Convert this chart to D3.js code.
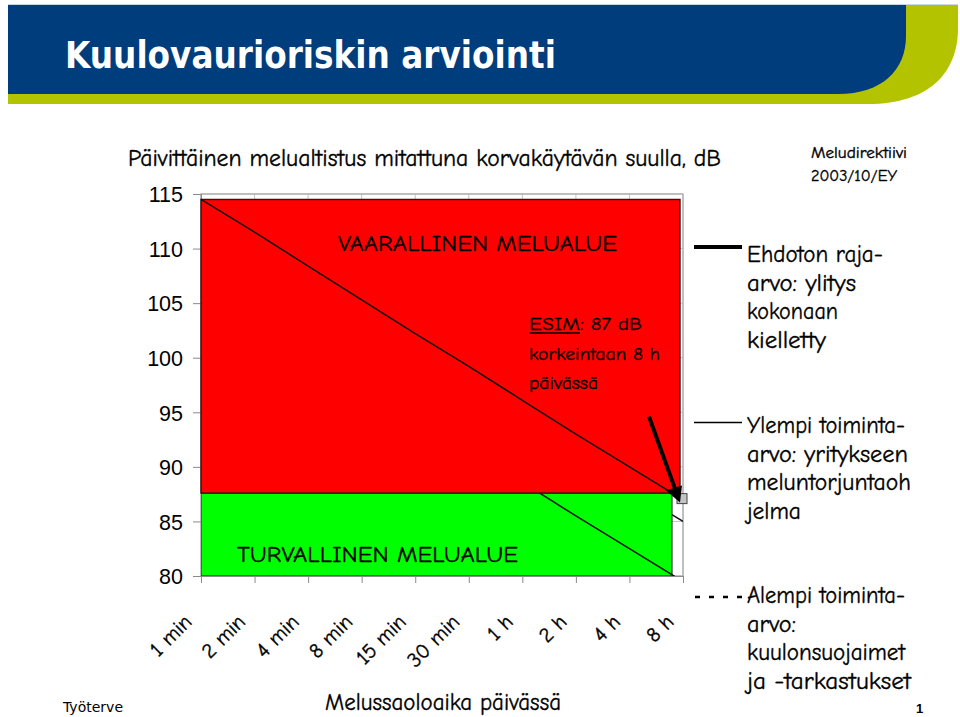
<!DOCTYPE html>
<html>
<head>
<meta charset="utf-8">
<script src="https://cdn.jsdelivr.net/npm/d3@7"></script>
<style>
  html, body { margin: 0; padding: 0; background: #fff; }
  svg { display: block; }
</style>
</head>
<body>
<svg id="chart" width="960" height="717"></svg>
<script>
// ---------------- data ----------------
const categories = ["1 min", "2 min", "4 min", "8 min", "15 min", "30 min", "1 h", "2 h", "4 h", "8 h"];
const yTicks = [80, 85, 90, 95, 100, 105, 110, 115];
// Ehdoton raja-arvo (87 dB / 8 h) line
const limitValues = [114.5, 111.5, 108.4, 105.3, 102.2, 99.2, 96.1, 93.0, 90.0, 87.0];
// Ylempi toiminta-arvo (85 dB / 8 h) line
const upperActionValues = [112.5, 109.5, 106.4, 103.3, 100.2, 97.2, 94.1, 91.0, 88.0, 85.0];
// Alempi toiminta-arvo line
const lowerActionValues = [107.0, 104.0, 100.9, 97.8, 94.7, 91.7, 88.6, 85.5, 82.5, 79.5];
// zone bounds: safe zone [80, 87.6], dangerous zone [87.6, 114.5]
const zoneBounds = [80, 87.6, 114.5];
const zoneLabels = ["TURVALLINEN MELUALUE", "VAARALLINEN MELUALUE"];
const chartTitle = "Päivittäinen melualtistus mitattuna korvakäytävän suulla, dB";
const xTitle = "Melussaoloaika päivässä";
const pageTitle = "Kuulovaurioriskin arviointi";
const sourceLines = ["Meludirektiivi", "2003/10/EY"];
const exampleLines = ["ESIM", ": 87 dB", "korkeintaan 8 h", "päivässä"];
const legendLabels = [
  ["Ehdoton raja-", "arvo: ylitys", "kokonaan", "kielletty"],
  ["Ylempi toiminta-", "arvo: yritykseen", "meluntorjuntaoh", "jelma"],
  ["Alempi toiminta-", "arvo:", "kuulonsuojaimet", "ja -tarkastukset"]
];

// ---------------- setup ----------------
const svg = d3.select("#chart");
const comic = '"Comic Sans MS", "Comic Neue", "Noto Sans", sans-serif';
const arial = '"Liberation Sans", Arial, sans-serif';

function txt(str, x, y, size, opts = {}) {
  const t = svg.append("text")
    .attr("x", x).attr("y", y)
    .attr("font-size", size)
    .attr("font-family", opts.font || comic)
    .attr("fill", opts.fill || "#000")
    .text(str);
  if (opts.weight) t.attr("font-weight", opts.weight);
  if (opts.anchor) t.attr("text-anchor", opts.anchor);
  if (opts.w) t.attr("textLength", opts.w).attr("lengthAdjust", "spacingAndGlyphs");
  if (!opts.font) t.attr("stroke", "#000").attr("stroke-width", 0.35);
  return t;
}

// ---------------- header ----------------
svg.append("line").attr("x1", 8).attr("x2", 958).attr("y1", 4.5).attr("y2", 4.5)
  .attr("stroke", "#c9d6e3").attr("stroke-width", 1);
svg.append("path")
  .attr("d", "M8,5 H958 V28 C958,72 930,104 868,104 H8 Z")
  .attr("fill", "#b4c300");
svg.append("path")
  .attr("d", "M8,5 H906 V36 C906,70 882,94 838,94 H8 Z")
  .attr("fill", "#003d7c");
txt(pageTitle, 65, 68, 37, { font: '"DejaVu Sans Condensed", "DejaVu Sans", sans-serif', weight: "bold", fill: "#fff", w: 491 });

// ---------------- scales ----------------
const x = d3.scalePoint().domain(categories).range([201, 683]);
const y = d3.scaleLinear().domain([80, 115]).range([576, 194]);
const x0 = x.range()[0], x1 = x.range()[1];

// clip
svg.append("defs").append("clipPath").attr("id", "plotClip")
  .append("rect").attr("x", x0).attr("y", y(115)).attr("width", x1 - x0).attr("height", y(80) - y(115));

// gridlines
const grid = svg.append("g");
grid.selectAll("line.h").data(yTicks).join("line")
  .attr("x1", x0).attr("x2", x1).attr("y1", d => y(d)).attr("y2", d => y(d))
  .attr("stroke", "#c4c4c4").attr("stroke-width", 1);
grid.selectAll("line.v").data(categories).join("line")
  .attr("x1", d => x(d)).attr("x2", d => x(d)).attr("y1", y(115)).attr("y2", y(80))
  .attr("stroke", "#c4c4c4").attr("stroke-width", 1);
svg.append("rect").attr("x", x0).attr("y", y(115)).attr("width", x1 - x0).attr("height", y(80) - y(115))
  .attr("fill", "none").attr("stroke", "#a8a8a8").attr("stroke-width", 1.2);

// axes
const yAxis = d3.axisLeft(y).tickValues(yTicks).tickSize(8).tickFormat(d3.format("d"));
const yg = svg.append("g").attr("transform", `translate(${x0},0)`).call(yAxis);
yg.select(".domain").attr("stroke", "#8a8a8a");
yg.selectAll(".tick line").attr("stroke", "#8a8a8a");
yg.selectAll(".tick text").attr("font-family", arial).attr("font-size", 21.5)
  .attr("x", -18).attr("dy", "0.36em").attr("fill", "#000");

const xAxis = d3.axisBottom(x).tickSize(7).tickFormat("");
const xg = svg.append("g").attr("transform", `translate(0,${y(80)})`).call(xAxis);
xg.select(".domain").attr("stroke", "#8a8a8a");
xg.selectAll(".tick line").attr("stroke", "#8a8a8a");
svg.append("g").selectAll("text").data(categories).join("text")
  .attr("transform", d => `translate(${x(d) - 8},${y(80) + 47}) rotate(-45)`)
  .attr("text-anchor", "end")
  .attr("font-family", comic).attr("font-size", 21)
  .attr("stroke", "#000").attr("stroke-width", 0.35)
  .text(d => d);

// lines
const line = d3.line().x((d, i) => x(categories[i])).y(d => y(d));
const below = svg.append("g").attr("clip-path", "url(#plotClip)");

below.append("path").datum(upperActionValues).attr("d", line)
  .attr("fill", "none").attr("stroke", "#111").attr("stroke-width", 1.5);

// safe zone (green)
below.append("rect")
  .attr("x", x0).attr("y", y(zoneBounds[1]))
  .attr("width", (x1 - 11) - x0).attr("height", y(zoneBounds[0]) - y(zoneBounds[1]))
  .attr("fill", "#00ff00").attr("stroke", "#333").attr("stroke-width", 1.2);

below.append("path").datum(lowerActionValues).attr("d", line)
  .attr("fill", "none").attr("stroke", "#111").attr("stroke-width", 1.5);

// dangerous zone (red)
svg.append("rect")
  .attr("x", x0).attr("y", y(zoneBounds[2]))
  .attr("width", (x1 - 3) - x0).attr("height", y(zoneBounds[1]) - y(zoneBounds[2]))
  .attr("fill", "#ff0000").attr("stroke", "#3a1010").attr("stroke-width", 1.4);

const above = svg.append("g").attr("clip-path", "url(#plotClip)");
above.append("path").datum(limitValues).attr("d", line)
  .attr("fill", "none").attr("stroke", "#111").attr("stroke-width", 1.5);

// marker at 8 h, 87 dB
const mx = x(categories[9]) - 1, my = y(limitValues[9]) - 1;
svg.append("rect").attr("x", mx - 5).attr("y", my - 5).attr("width", 10).attr("height", 10)
  .attr("fill", "#c4c4c4").attr("stroke", "#444").attr("stroke-width", 1);

// arrow
const tipX = mx - 2, tipY = my + 4;
svg.append("line").attr("x1", tipX - 31).attr("y1", tipY - 86).attr("x2", tipX - 5).attr("y2", tipY - 14)
  .attr("stroke", "#000").attr("stroke-width", 4);
svg.append("path")
  .attr("d", `M${tipX},${tipY} L${tipX - 14},${tipY - 12} L${tipX + 2},${tipY - 17} Z`)
  .attr("fill", "#000");

// zone labels
txt(zoneLabels[1], 338, 251, 23, { w: 279 });
txt(zoneLabels[0], 237, 562, 23, { w: 281 });

// example annotation
txt(exampleLines[0], 529, 330, 19, { w: 51 });
svg.append("line").attr("x1", 529).attr("x2", 580).attr("y1", 333).attr("y2", 333)
  .attr("stroke", "#000").attr("stroke-width", 1.3);
txt(exampleLines[1], 580, 330, 19, { w: 62 });
txt(exampleLines[2], 529, 360, 19, { w: 131 });
txt(exampleLines[3], 529, 389, 19, { w: 69 });

// titles
txt(chartTitle, 128, 166, 23.5, { w: 593 });
txt(xTitle, 325, 710, 23.5, { w: 236 });
txt(sourceLines[0], 811, 158, 15.5, { w: 96 });
txt(sourceLines[1], 811, 181, 15.5, { w: 86 });

// legend
svg.append("line").attr("x1", 694).attr("x2", 742).attr("y1", 247).attr("y2", 247)
  .attr("stroke", "#000").attr("stroke-width", 4);
svg.append("line").attr("x1", 694).attr("x2", 742).attr("y1", 422.5).attr("y2", 422.5)
  .attr("stroke", "#000").attr("stroke-width", 1.5);
svg.append("line").attr("x1", 695).attr("x2", 742).attr("y1", 597).attr("y2", 597)
  .attr("stroke", "#000").attr("stroke-width", 2.5).attr("stroke-dasharray", "5,9");

const legendBase = [262, 433, 603];
const legendWidths = [[136, 109, 91, 79], [158, 161, 164, 54], [158, 49, 158, 164]];
legendLabels.forEach((lines, b) => {
  lines.forEach((s, i) => {
    txt(s, 747, legendBase[b] + i * 28.7, 24, { w: legendWidths[b][i] });
  });
});

// footer
txt("Työterve", 63, 712, 14, { font: '"DejaVu Sans", sans-serif', w: 60 });
txt("1", 916, 713, 13, { font: arial, weight: "bold" });
</script>
</body>
</html>
